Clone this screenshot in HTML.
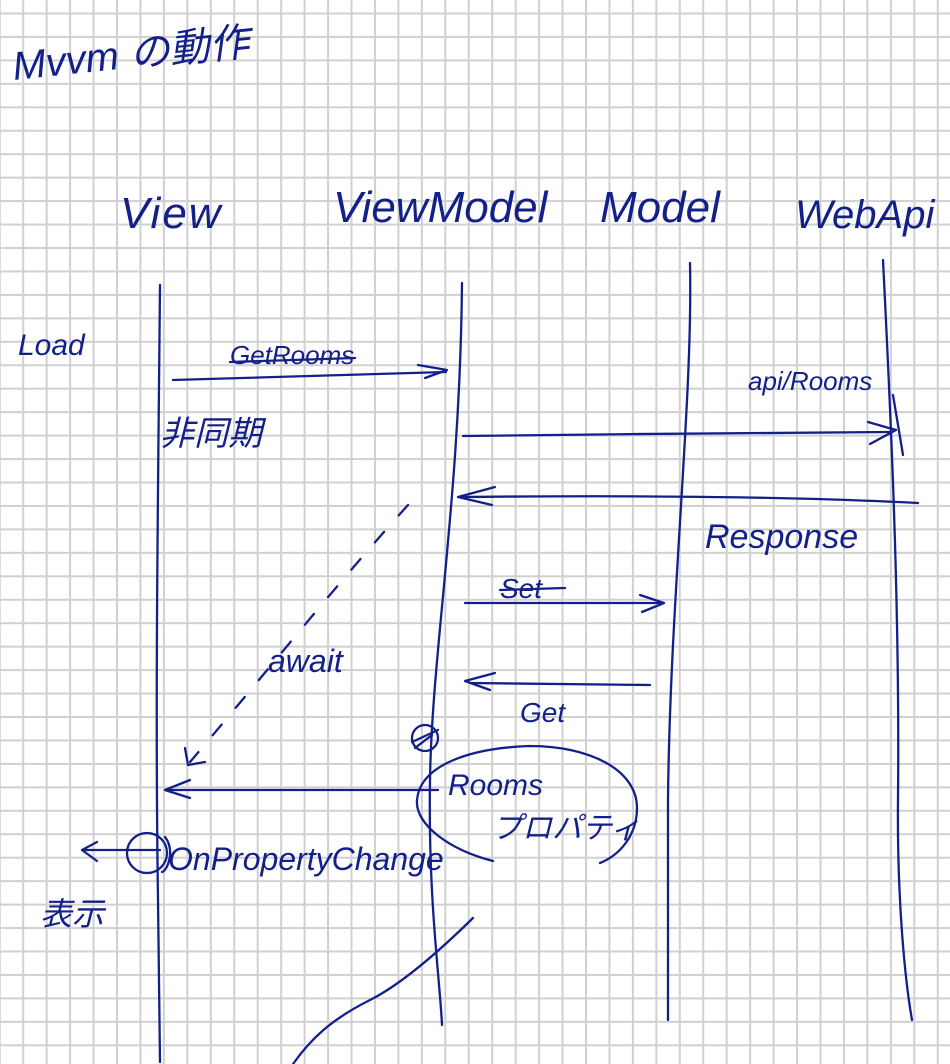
<!DOCTYPE html>
<html><head><meta charset="utf-8"><style>
html,body{margin:0;padding:0;background:#fff;}
svg{display:block;}
text{font-family:"Liberation Sans","Noto Sans CJK JP",sans-serif;fill:#14208a;font-style:italic;}
</style></head><body>
<svg width="950" height="1064" viewBox="0 0 950 1064" xmlns="http://www.w3.org/2000/svg">
<defs>
<pattern id="g" x="22.2" y="12.5" width="23.45" height="23.45" patternUnits="userSpaceOnUse">
<path d="M0 1H23.45M1 0V23.45" stroke="#d0d0d0" stroke-width="2" fill="none"/>
</pattern>
</defs>
<rect width="950" height="1064" fill="#fff"/>
<rect width="950" height="1064" fill="url(#g)"/>
<g stroke="#14208a" stroke-width="2.3" fill="none" stroke-linecap="round" stroke-linejoin="round">
<path d="M160 285 C158 500 155 700 158 900 L160 1062"/>
<path d="M462 283 C460 500 432 650 430 780 C428 900 440 980 442 1025"/>
<path d="M690 263 C693 400 670 600 668 800 L668 1020"/>
<path d="M883 260 C890 400 900 600 898 800 C897 900 905 980 912 1020"/>
<path d="M173 380 L446 372"/><path d="M418 365 L447 370 L425 378"/>
<path d="M230 362 L355 358"/>
<path d="M463 436 C600 434 780 433 890 432"/><path d="M868 422 L896 430 L870 444"/>
<path d="M893 395 L903 455"/>
<path d="M918 503 C800 497 650 495 460 497"/><path d="M495 487 L458 497 L492 505"/>
<path d="M465 603 L660 603"/><path d="M640 595 L664 603 L642 612"/>
<path d="M500 590 L565 588"/>
<path d="M650 685 L470 683"/><path d="M495 673 L465 681 L490 690"/>
<path d="M408 505 C340 580 260 680 190 762" stroke-dasharray="14 22"/>
<path d="M185 748 L188 765 L205 762"/>
<path d="M165 790 L438 790"/><path d="M190 780 L165 790 L190 798"/>
<circle cx="425" cy="738" r="13"/>
<path d="M412 742 L438 730 M415 748 L432 735"/>
<path d="M493 861 C450 850 415 825 417 800 C420 765 470 748 530 746 C590 746 637 770 637 808 C637 835 620 855 600 863"/>
<path d="M82 850 L160 850"/><path d="M97 842 L82 850 L97 861"/>
<circle cx="147" cy="853" r="20"/>
<path d="M165 837 C175 850 168 870 162 872"/>
<path d="M473 918 C420 970 390 990 370 1000 C330 1020 310 1040 293 1064"/>
</g>
<g>
<text x="14" y="80" font-size="40" transform="rotate(-6 14 80)">Mvvm の動作</text>
<text x="120" y="228" font-size="44" letter-spacing="2">View</text>
<text x="333" y="222" font-size="44">ViewModel</text>
<text x="600" y="222" font-size="44">Model</text>
<text x="795" y="228" font-size="40">WebApi</text>
<text x="18" y="355" font-size="30">Load</text>
<text x="230" y="364" font-size="26">GetRooms</text>
<text x="160" y="445" font-size="34">非同期</text>
<text x="748" y="390" font-size="26">api/Rooms</text>
<text x="705" y="548" font-size="34">Response</text>
<text x="500" y="598" font-size="28">Set</text>
<text x="520" y="722" font-size="28">Get</text>
<text x="268" y="672" font-size="32">await</text>
<text x="448" y="795" font-size="30">Rooms</text>
<text x="492" y="838" font-size="30">プロパティ</text>
<text x="168" y="870" font-size="32">OnPropertyChange</text>
<text x="40" y="925" font-size="32">表示</text>
</g>
</svg>
</body></html>
